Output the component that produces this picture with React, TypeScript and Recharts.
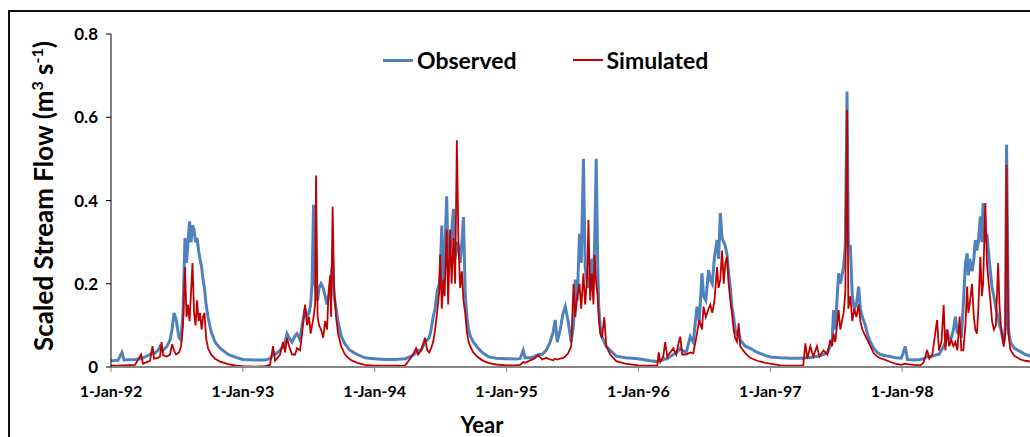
import { Legend, Line, LineChart, XAxis, YAxis } from "recharts";

const FONT = "Lato, 'Open Sans', sans-serif";
const BLUE = "#4F81BD";
const RED = "#C00000";

// decimal year of each reading
const dates = [
  1992.0, 1992.053, 1992.083, 1992.099, 1992.182, 1992.228, 1992.243, 1992.296, 1992.315, 1992.326, 1992.357, 1992.372, 1992.383, 1992.395, 1992.425, 1992.448, 1992.463, 1992.478, 1992.493, 1992.516, 1992.531, 1992.546, 1992.561, 1992.573, 1992.584, 1992.596, 1992.607, 1992.618, 1992.63, 1992.641, 1992.653, 1992.664, 1992.675, 1992.687, 1992.698, 1992.709, 1992.721, 1992.736, 1992.759, 1992.789, 1992.827, 1992.888, 1992.948,
  1993.002, 1993.093, 1993.168, 1993.206, 1993.229, 1993.244, 1993.282, 1993.305, 1993.32, 1993.335, 1993.351, 1993.373, 1993.396, 1993.411, 1993.434, 1993.449, 1993.472, 1993.487, 1993.502, 1993.514, 1993.525, 1993.536, 1993.548, 1993.555, 1993.567, 1993.578, 1993.593, 1993.609, 1993.624, 1993.639, 1993.65, 1993.662, 1993.669, 1993.681, 1993.692, 1993.707, 1993.722, 1993.745, 1993.775, 1993.813, 1993.866, 1993.927, 1993.995,
  1994.079, 1994.155, 1994.231, 1994.269, 1994.291, 1994.314, 1994.329, 1994.352, 1994.367, 1994.382, 1994.398, 1994.413, 1994.428, 1994.443, 1994.458, 1994.473, 1994.489, 1994.496, 1994.509, 1994.519, 1994.53, 1994.546, 1994.557, 1994.572, 1994.583, 1994.597, 1994.61, 1994.623, 1994.635, 1994.648, 1994.661, 1994.673, 1994.686, 1994.699, 1994.712, 1994.724, 1994.747, 1994.777, 1994.815, 1994.86, 1994.921, 1994.997,
  1995.065, 1995.103, 1995.126, 1995.141, 1995.179, 1995.209, 1995.24, 1995.27, 1995.3, 1995.331, 1995.354, 1995.369, 1995.384, 1995.407, 1995.429, 1995.445, 1995.467, 1995.49, 1995.508, 1995.521, 1995.536, 1995.553, 1995.566, 1995.583, 1995.596, 1995.612, 1995.621, 1995.634, 1995.647, 1995.659, 1995.668, 1995.68, 1995.691, 1995.699, 1995.71, 1995.723, 1995.741, 1995.756, 1995.786, 1995.832, 1995.9, 1995.999,
  1996.09, 1996.143, 1996.154, 1996.165, 1996.188, 1996.203, 1996.219, 1996.241, 1996.264, 1996.287, 1996.306, 1996.317, 1996.332, 1996.363, 1996.393, 1996.416, 1996.444, 1996.461, 1996.482, 1996.494, 1996.511, 1996.532, 1996.545, 1996.56, 1996.577, 1996.596, 1996.608, 1996.621, 1996.634, 1996.647, 1996.659, 1996.672, 1996.684, 1996.697, 1996.709, 1996.722, 1996.734, 1996.747, 1996.76, 1996.772, 1996.81, 1996.848, 1996.901, 1996.962,
  1997.0, 1997.076, 1997.152, 1997.228, 1997.25, 1997.266, 1997.281, 1997.304, 1997.326, 1997.354, 1997.372, 1997.404, 1997.433, 1997.455, 1997.47, 1997.48, 1997.493, 1997.518, 1997.531, 1997.556, 1997.569, 1997.582, 1997.592, 1997.607, 1997.622, 1997.637, 1997.653, 1997.67, 1997.683, 1997.698, 1997.721, 1997.736, 1997.759, 1997.784, 1997.812, 1997.835, 1997.873, 1997.911, 1997.948, 1997.994,
  1998.024, 1998.04, 1998.085, 1998.138, 1998.161, 1998.176, 1998.189, 1998.206, 1998.229, 1998.265, 1998.279, 1998.298, 1998.315, 1998.328, 1998.341, 1998.358, 1998.373, 1998.389, 1998.404, 1998.419, 1998.436, 1998.449, 1998.464, 1998.48, 1998.493, 1998.502, 1998.512, 1998.53, 1998.544, 1998.555, 1998.567, 1998.578, 1998.593, 1998.605, 1998.614, 1998.631, 1998.643, 1998.654, 1998.669, 1998.682, 1998.696, 1998.711, 1998.728, 1998.738, 1998.749, 1998.77, 1998.783, 1998.792, 1998.806, 1998.821, 1998.851, 1998.897, 1998.935, 1998.996,
];

const observed = [
  0.015, 0.016, 0.035, 0.017, 0.018, 0.02, 0.022, 0.03, 0.035, 0.032, 0.04, 0.05, 0.045, 0.04, 0.05, 0.065, 0.09, 0.13, 0.115, 0.07, 0.065, 0.13, 0.31, 0.25, 0.3, 0.35, 0.3, 0.34, 0.33, 0.3, 0.31, 0.28, 0.26, 0.24, 0.21, 0.19, 0.15, 0.12, 0.085, 0.06, 0.045, 0.03, 0.023,
  0.018, 0.017, 0.017, 0.02, 0.03, 0.03, 0.04, 0.05, 0.06, 0.08, 0.07, 0.06, 0.075, 0.08, 0.065, 0.1, 0.14, 0.12, 0.13, 0.15, 0.2, 0.39, 0.2, 0.18, 0.16, 0.19, 0.2, 0.19, 0.17, 0.15, 0.17, 0.18, 0.22, 0.25, 0.17, 0.14, 0.11, 0.075, 0.055, 0.04, 0.03, 0.022, 0.02,
  0.018, 0.018, 0.02, 0.025, 0.028, 0.035, 0.04, 0.04, 0.05, 0.06, 0.065, 0.07, 0.09, 0.12, 0.14, 0.18, 0.2, 0.22, 0.34, 0.19, 0.26, 0.41, 0.24, 0.28, 0.32, 0.38, 0.26, 0.3, 0.29, 0.25, 0.3, 0.36, 0.18, 0.12, 0.09, 0.075, 0.06, 0.048, 0.035, 0.025, 0.021, 0.02,
  0.019, 0.02, 0.04, 0.022, 0.022, 0.025, 0.03, 0.03, 0.04, 0.06, 0.085, 0.113, 0.06, 0.09, 0.13, 0.145, 0.11, 0.06, 0.1, 0.21, 0.16, 0.32, 0.25, 0.5, 0.24, 0.2, 0.19, 0.23, 0.26, 0.2, 0.3, 0.5, 0.25, 0.145, 0.1, 0.073, 0.06, 0.05, 0.04, 0.026, 0.022, 0.02,
  0.015, 0.013, 0.015, 0.015, 0.017, 0.02, 0.02, 0.025, 0.03, 0.035, 0.04, 0.045, 0.04, 0.035, 0.073, 0.06, 0.145, 0.11, 0.225, 0.17, 0.16, 0.233, 0.21, 0.2, 0.265, 0.305, 0.26, 0.37, 0.31, 0.3, 0.29, 0.27, 0.225, 0.19, 0.145, 0.12, 0.09, 0.08, 0.085, 0.065, 0.05, 0.045, 0.035, 0.028,
  0.024, 0.022, 0.021, 0.021, 0.021, 0.022, 0.022, 0.023, 0.024, 0.025, 0.027, 0.03, 0.035, 0.05, 0.07, 0.137, 0.09, 0.225, 0.2, 0.24, 0.293, 0.662, 0.29, 0.29, 0.17, 0.14, 0.15, 0.193, 0.14, 0.12, 0.1, 0.08, 0.06, 0.045, 0.035, 0.03, 0.027, 0.025, 0.022, 0.021,
  0.049, 0.018, 0.017, 0.018, 0.02, 0.022, 0.025, 0.025, 0.026, 0.03, 0.03, 0.04, 0.05, 0.06, 0.089, 0.06, 0.07, 0.09, 0.121, 0.08, 0.1, 0.07, 0.15, 0.25, 0.273, 0.22, 0.26, 0.23, 0.26, 0.305, 0.28, 0.3, 0.362, 0.3, 0.394, 0.3, 0.32, 0.28, 0.23, 0.19, 0.17, 0.14, 0.12, 0.1, 0.09, 0.057, 0.1, 0.534, 0.09, 0.06, 0.045, 0.037, 0.03, 0.024,
];

const simulated = [
  0.003, 0.003, 0.004, 0.004, 0.005, 0.03, 0.008, 0.015, 0.05, 0.02, 0.022, 0.025, 0.06, 0.028, 0.025, 0.03, 0.055, 0.04, 0.03, 0.035, 0.05, 0.1, 0.24, 0.12, 0.15, 0.11, 0.18, 0.25, 0.13, 0.1, 0.16, 0.11, 0.13, 0.09, 0.12, 0.13, 0.07, 0.045, 0.03, 0.02, 0.013, 0.007, 0.003,
  0.002, 0.001, 0.002, 0.005, 0.05, 0.015, 0.03, 0.06, 0.035, 0.07, 0.05, 0.03, 0.03, 0.045, 0.04, 0.08, 0.15, 0.1, 0.12, 0.08, 0.1, 0.12, 0.15, 0.46, 0.12, 0.1, 0.09, 0.07, 0.11, 0.09, 0.18, 0.22, 0.12, 0.385, 0.19, 0.12, 0.08, 0.05, 0.03, 0.018, 0.01, 0.005, 0.003,
  0.003, 0.003, 0.004, 0.02, 0.03, 0.045, 0.03, 0.04, 0.055, 0.07, 0.04, 0.035, 0.045, 0.06, 0.09, 0.13, 0.18, 0.27, 0.14, 0.21, 0.17, 0.33, 0.15, 0.33, 0.2, 0.31, 0.2, 0.545, 0.3, 0.19, 0.23, 0.16, 0.13, 0.085, 0.06, 0.05, 0.035, 0.025, 0.016, 0.01, 0.006, 0.004,
  0.004, 0.005, 0.012, 0.01, 0.016, 0.02, 0.028, 0.018, 0.022, 0.018, 0.016, 0.02, 0.018, 0.02, 0.022, 0.025, 0.033, 0.05, 0.2, 0.12, 0.17, 0.2, 0.14, 0.225, 0.15, 0.22, 0.354, 0.16, 0.225, 0.15, 0.27, 0.2, 0.17, 0.12, 0.08, 0.07, 0.12, 0.05, 0.03, 0.014, 0.008, 0.004,
  0.003, 0.004, 0.035, 0.012, 0.025, 0.06, 0.025, 0.035, 0.045, 0.03, 0.06, 0.073, 0.03, 0.03, 0.035, 0.033, 0.08, 0.113, 0.09, 0.145, 0.12, 0.14, 0.15, 0.13, 0.16, 0.24, 0.19, 0.21, 0.28, 0.2, 0.25, 0.265, 0.2, 0.16, 0.13, 0.09, 0.07, 0.061, 0.105, 0.05, 0.033, 0.022, 0.015, 0.01,
  0.008, 0.004, 0.003, 0.003, 0.004, 0.057, 0.02, 0.05, 0.025, 0.05, 0.025, 0.04, 0.03, 0.065, 0.05, 0.08, 0.06, 0.137, 0.09, 0.13, 0.177, 0.618, 0.14, 0.17, 0.11, 0.14, 0.12, 0.15, 0.11, 0.09, 0.075, 0.065, 0.05, 0.033, 0.025, 0.021, 0.017, 0.012, 0.008, 0.005,
  0.008, 0.007, 0.005, 0.004, 0.01, 0.025, 0.041, 0.02, 0.03, 0.113, 0.04, 0.06, 0.149, 0.04, 0.09, 0.05, 0.065, 0.05, 0.06, 0.04, 0.121, 0.04, 0.04, 0.1, 0.193, 0.13, 0.15, 0.2, 0.12, 0.09, 0.08, 0.14, 0.265, 0.17, 0.2, 0.394, 0.25, 0.21, 0.16, 0.11, 0.09, 0.1, 0.25, 0.15, 0.1, 0.049, 0.08, 0.486, 0.08, 0.041, 0.027, 0.018, 0.015, 0.012,
];

const yearTicks = [1992, 1993, 1994, 1995, 1996, 1997, 1998];
const yearTickLabels = ["1-Jan-92", "1-Jan-93", "1-Jan-94", "1-Jan-95", "1-Jan-96", "1-Jan-97", "1-Jan-98"];
const flowTicks = [0, 0.2, 0.4, 0.6, 0.8];

const data = dates.map((t, i) => ({
  t,
  observed: observed[i],
  simulated: simulated[i],
}));

function FlowLabel() {
  return (
    <text
      transform="translate(43,184) rotate(-90)"
      textAnchor="middle"
      fontFamily={FONT}
      fontWeight={700}
      fontSize={26}
      fill="#000"
    >
      Scaled Stream Flow (m
      <tspan dy={-10} fontSize={16}>3</tspan>
      <tspan dy={10}> s</tspan>
      <tspan dy={-10} fontSize={16}>-1</tspan>
      <tspan dy={10}>)</tspan>
    </text>
  );
}

function YearLabel() {
  return (
    <text x={472} y={421} textAnchor="middle" fontFamily={FONT} fontWeight={700} fontSize={22} fill="#000">
      Year
    </text>
  );
}

function LegendBox() {
  const item = (color: string, h: number, label: string, gap: number) => (
    <div style={{ display: "flex", alignItems: "center", marginLeft: gap }}>
      <span style={{ display: "inline-block", width: 30, height: h, background: color, marginRight: 4 }} />
      <span>{label}</span>
    </div>
  );
  return (
    <div
      style={{
        display: "flex",
        alignItems: "center",
        fontFamily: FONT,
        fontWeight: 700,
        fontSize: 23,
        lineHeight: "26px",
        color: "#000",
      }}
    >
      {item(BLUE, 3, "Observed", 0)}
      {item(RED, 2, "Simulated", 56)}
    </div>
  );
}

export default function App() {
  return (
    <div
      style={{
        position: "fixed",
        left: 0,
        top: 0,
        width: 1030,
        height: 437,
        overflow: "hidden",
        background: "#fff",
      }}
    >
      <div
        style={{
          position: "absolute",
          left: 8,
          top: 10,
          width: 1100,
          height: 500,
          borderLeft: "2px solid #111",
          borderTop: "2px solid #111",
        }}
      >
        <LineChart
          width={1040}
          height={427}
          data={data}
          margin={{ top: 22, right: 16, left: 0, bottom: 0 }}
        >
          <XAxis
            dataKey="t"
            type="number"
            domain={[1992, 1999]}
            ticks={yearTicks}
            tickFormatter={(v: number) => yearTickLabels[yearTicks.indexOf(v)] ?? ""}
            height={72}
            axisLine={{ stroke: "#878787", strokeWidth: 2 }}
            tickLine={{ stroke: "#878787" }}
            tickSize={5}
            tickMargin={14}
            tick={{ fill: "#000", fontSize: 16, fontWeight: 700, fontFamily: FONT }}
            label={<YearLabel />}
            allowDataOverflow
          />
          <YAxis
            domain={[0, 0.8]}
            ticks={flowTicks}
            width={101}
            axisLine={{ stroke: "#000" }}
            tickLine={{ stroke: "#000" }}
            tickSize={5}
            tickMargin={8}
            tick={{ fill: "#000", fontSize: 17, fontWeight: 700, fontFamily: FONT }}
            label={<FlowLabel />}
          />
          <Legend
            verticalAlign="middle"
            align="center"
            layout="horizontal"
            content={<LegendBox />}
            wrapperStyle={{ top: 35, left: 373, width: "auto" }}
          />
          <Line
            type="linear"
            dataKey="observed"
            stroke={BLUE}
            strokeWidth={3}
            dot={false}
            activeDot={false}
            isAnimationActive={false}
          />
          <Line
            type="linear"
            dataKey="simulated"
            stroke={RED}
            strokeWidth={1.8}
            dot={false}
            activeDot={false}
            isAnimationActive={false}
          />
        </LineChart>
      </div>
    </div>
  );
}
